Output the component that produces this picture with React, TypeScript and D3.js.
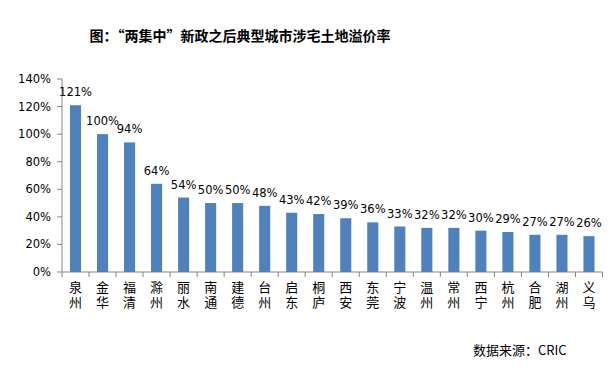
import * as d3 from "d3";

const cities = [
  "泉州", "金华", "福清", "滁州", "丽水", "南通", "建德", "台州", "启东", "桐庐",
  "西安", "东莞", "宁波", "温州", "常州", "西宁", "杭州", "合肥", "湖州", "义乌",
];
const premium = [121, 100, 94, 64, 54, 50, 50, 48, 43, 42, 39, 36, 33, 32, 32, 30, 29, 27, 27, 26];
const yTicks = [0, 20, 40, 60, 80, 100, 120, 140];

const numFont = "'DejaVu Sans', Tahoma, sans-serif";
const cjkFont = "'Noto Sans CJK SC', sans-serif";

export default function App() {
  const left = 62;
  const right = 602.5;
  const top = 79;
  const bottom = 272;

  const x = d3.scaleBand().domain(cities).range([left, right]).paddingInner(0.59).paddingOuter(0.295);
  const slot = d3.scaleBand().domain(cities).range([left, right]);
  const y = d3.scaleLinear().domain([0, 140]).range([bottom, top]);

  return (
    <svg
      width={616}
      height={374}
      style={{ position: "absolute", left: 0, top: 0, background: "white" }}
    >
      <text
        x={240}
        y={41}
        fontSize={14}
        fontWeight="bold"
        fontFamily={cjkFont}
        textAnchor="middle"
        fill="#000"
      >
        {"图：“两集中”新政之后典型城市涉宅土地溢价率"}
      </text>

      {/* y axis */}
      <line x1={left} y1={top} x2={left} y2={bottom} stroke="#868686" />
      {yTicks.map((t) => (
        <g key={t}>
          <line x1={left - 5} y1={y(t)} x2={left} y2={y(t)} stroke="#868686" />
          <text
            x={51}
            y={y(t) + 4}
            fontSize={11.5}
            fontFamily={numFont}
            textAnchor="end"
            fill="#000"
          >
            {t + "%"}
          </text>
        </g>
      ))}

      {/* x axis */}
      <line x1={left} y1={bottom} x2={right} y2={bottom} stroke="#868686" />
      {cities.map((c) => (
        <line
          key={"t" + c}
          x1={(slot(c) as number) + slot.bandwidth()}
          y1={bottom}
          x2={(slot(c) as number) + slot.bandwidth()}
          y2={bottom + 5}
          stroke="#868686"
        />
      ))}
      <line x1={left} y1={bottom} x2={left} y2={bottom + 5} stroke="#868686" />

      {cities.map((c, i) => {
        const cx = (x(c) as number) + x.bandwidth() / 2;
        return (
          <g key={c}>
            <rect
              x={x(c)}
              y={y(premium[i])}
              width={x.bandwidth()}
              height={bottom - y(premium[i])}
              fill="#4F81BD"
            />
            <text
              x={cx}
              y={y(premium[i]) - 9}
              fontSize={11.5}
              fontFamily={numFont}
              textAnchor="middle"
              fill="#000"
            >
              {premium[i] + "%"}
            </text>
            <text
              x={cx}
              y={281}
              fontSize={13}
              fontFamily={cjkFont}
              letterSpacing={1.5}
              style={{ writingMode: "vertical-rl" }}
              fill="#000"
            >
              {c}
            </text>
          </g>
        );
      })}

      <text x={473} y={355} fontSize={13} fontFamily={cjkFont} fill="#000">
        {"数据来源：CRIC"}
      </text>
    </svg>
  );
}
